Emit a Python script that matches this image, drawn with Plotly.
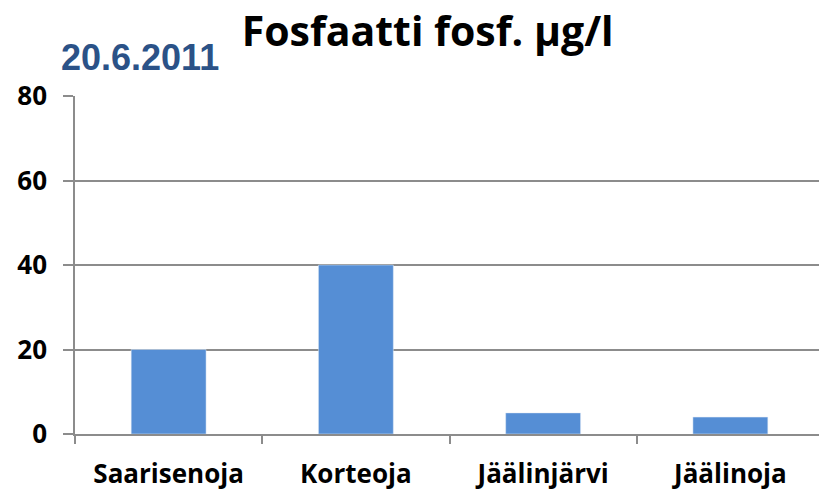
import plotly.graph_objects as go

categories = ["Saarisenoja", "Korteoja", "Jäälinjärvi", "Jäälinoja"]
values = [20, 40, 5, 4]
y_ticks = [0, 20, 40, 60, 80]

fig = go.Figure()
fig.add_trace(go.Bar(x=categories, y=values, marker_color="#558ED5", width=0.4))

grid = "#8C8C8C"
fig.update_layout(
    width=824, height=492,
    margin=dict(l=75, r=0, t=96, b=58, autoexpand=False),
    plot_bgcolor="white", paper_bgcolor="white",
    showlegend=False,
    font=dict(family="Open Sans", color="black"),
    title=dict(text="<b>Fosfaatti fosf. µg/l</b>", x=0.519, xanchor="center",
               y=0.9654, yanchor="top", pad=dict(t=0, b=0),
               font=dict(size=41, family="Open Sans", color="black")),
    annotations=[dict(text="<b>20.6.2011</b>", xref="paper", yref="paper",
                      x=-0.0214, y=1.1125, xanchor="left", yanchor="middle", showarrow=False,
                      font=dict(size=36, family="Liberation Sans", color="#2B5287"))],
)
fig.update_xaxes(
    automargin=False,
    showline=True, linecolor=grid, linewidth=1.5,
    ticks="outside", tickson="boundaries", ticklen=8, tickcolor=grid, tickwidth=1.5,
    tickfont=dict(size=26, family="Open Sans", color="black"),
    ticklabelstandoff=16,
    showgrid=False,
    tickprefix="<b>", ticksuffix="</b>",
)
fig.update_yaxes(
    automargin=False,
    range=[0, 80], tickvals=y_ticks, ticktext=[f"<b>{v}</b>" for v in y_ticks],
    showline=True, linecolor=grid, linewidth=1.5,
    ticks="outside", ticklen=10, tickcolor=grid, tickwidth=1.5,
    ticklabelstandoff=11,
    showgrid=True, gridcolor=grid, gridwidth=1.5,
    zeroline=False,
    tickfont=dict(size=26, family="Open Sans", color="black"),
)
fig.write_html(
    "out.html",
    config={"displayModeBar": False},
    post_script="document.body.style.margin='0';document.body.style.overflow='hidden';",
)
